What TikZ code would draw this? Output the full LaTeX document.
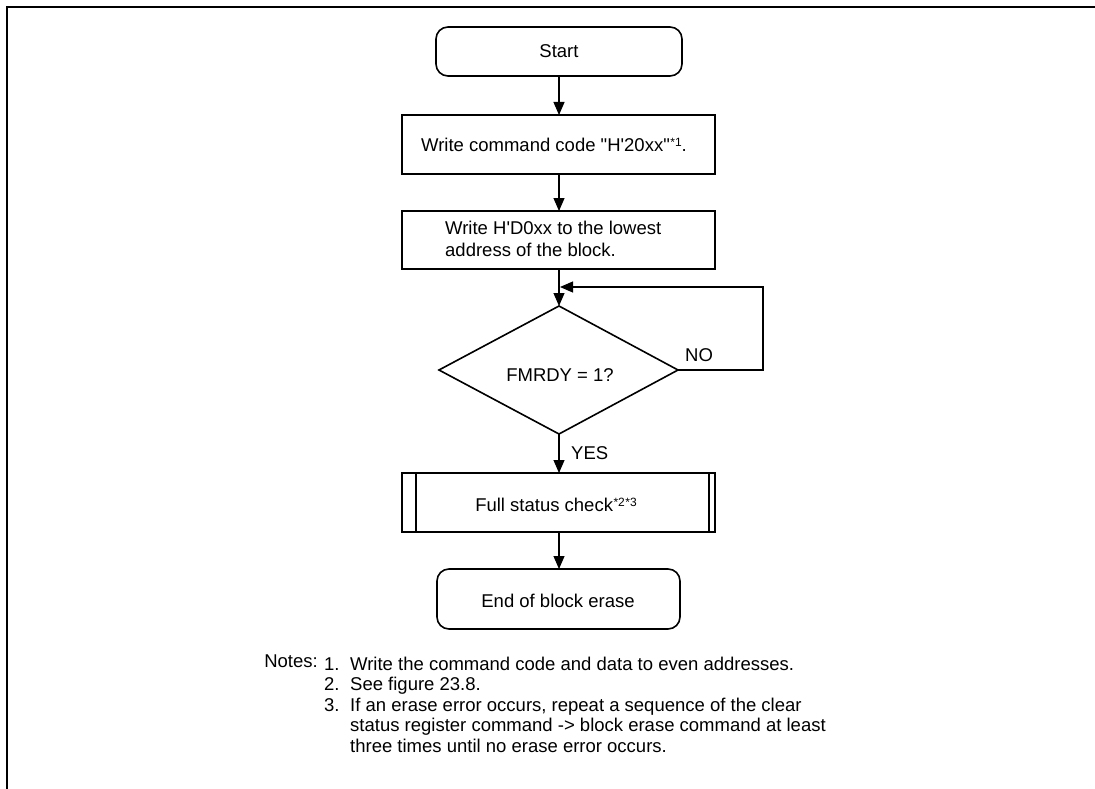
\documentclass[tikz,border=0pt]{standalone}
\usepackage{fontspec}
\setmainfont{Liberation Sans}[Ligatures=TeXOff]
\usetikzlibrary{arrows.meta,shapes.geometric}
\newcommand{\noteref}[1]{\kern0.5pt\raisebox{0.5ex}{\fontsize{12}{12}\selectfont *#1}}
\begin{document}
\begin{tikzpicture}[x=1pt,y=-1pt,
  every node/.style={font=\fontsize{18.5}{20}\selectfont, inner sep=0pt},
  box/.style={draw, line width=1.6pt},
  arr/.style={line width=1.1pt, -{Triangle[length=13pt,width=11pt]}}]
\useasboundingbox (0,0) rectangle (1095,789);
% frame
\draw[line width=2.2pt] (7,789) -- (7,7) -- (1095,7);
% shapes
\draw[box, rounded corners=12pt] (436,27) rectangle (682,76);
\coordinate (sT) at (559,27); \coordinate (sB) at (559,76);
\node (start) at (559,51) {Start};
\draw[box] (402,115) rectangle (715,174);
\coordinate (b1T) at (559,115); \coordinate (b1B) at (559,174);
\node (b1) at (554,145) {Write command code "H'20xx"\noteref{1}.};
\draw[box] (402,211) rectangle (715,269);
\coordinate (b2T) at (559,211); \coordinate (b2B) at (559,269);
\node[anchor=west] (b2a) at (445,228) {Write H'D0xx to the lowest};
\node[anchor=west] (b2b) at (445,250) {address of the block.};
\draw[box] (559,306) -- (678,370) -- (559,434) -- (439,370) -- cycle;
\coordinate (dT) at (559,306); \coordinate (dB) at (559,434); \coordinate (dR) at (678,370);
\node (dtext) at (560,375) {FMRDY = 1?};
\node[anchor=west] (no) at (685,355) {NO};
\node[anchor=west] (yes) at (571,453) {YES};
\draw[box] (402,473) rectangle (715,532);
\draw[line width=1.6pt] (416,473) -- (416,532);
\draw[line width=1.6pt] (709,473) -- (709,532);
\coordinate (b3T) at (559,473); \coordinate (b3B) at (559,532);
\node (b3) at (556,505) {Full status check\noteref{2}\noteref{3}};
\draw[box, rounded corners=12pt] (437,569) rectangle (680,629);
\coordinate (eT) at (559,569);
\node (end) at (558,601) {End of block erase};
% connectors
\draw[arr] (sB) -- (b1T);
\draw[arr] (b1B) -- (b2T);
\draw[arr] (b2B) -- (dT);
\draw[arr] (dB) -- (b3T);
\draw[arr] (b3B) -- (eT);
\coordinate (l1) at (763,370); \coordinate (l2) at (763,287); \coordinate (l3) at (560,287);
\draw[arr] (dR) -- (l1) -- (l2) -- (l3);
% notes
\node[anchor=base east] (notes) at (318,667) {Notes:};
\node[anchor=base west] (n1) at (324,670) {1.};
\node[anchor=base west] (t1) at (350,670) {Write the command code and data to even addresses.};
\node[anchor=base west] (n2) at (324,690.5) {2.};
\node[anchor=base west] (t2) at (350,690.5) {See figure 23.8.};
\node[anchor=base west] (n3) at (324,711) {3.};
\node[anchor=base west] (t3) at (350,711) {If an erase error occurs, repeat a sequence of the clear};
\node[anchor=base west] (t4) at (350,731.5) {status register command -> block erase command at least};
\node[anchor=base west] (t5) at (350,752) {three times until no erase error occurs.};
\end{tikzpicture}
\end{document}
